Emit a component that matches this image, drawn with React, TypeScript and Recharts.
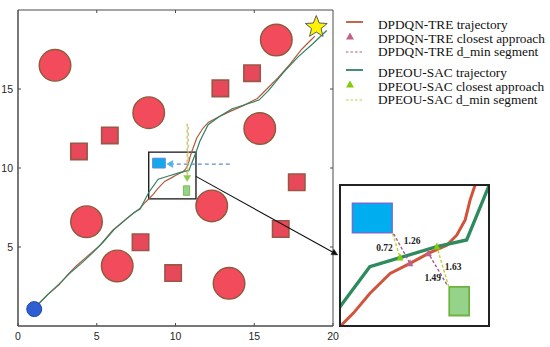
import React from 'react';
import { ComposedChart, Line, XAxis, YAxis, ReferenceDot, ReferenceArea, ReferenceLine } from 'recharts';

// ---------------- data ----------------
const xTicks = [0, 5, 10, 15, 20];
const yTicks = [5, 10, 15];
const mainDomain: [number, number] = [0, 20];

const circleObstacles = [
  { x: 2.35, y: 16.5 },
  { x: 8.3, y: 13.5 },
  { x: 16.4, y: 18.1 },
  { x: 15.35, y: 12.5 },
  { x: 12.3, y: 7.6 },
  { x: 4.35, y: 6.6 },
  { x: 6.3, y: 3.8 },
  { x: 13.4, y: 2.7 },
];

const squareObstacles = [
  { x: 3.87, y: 11.05 },
  { x: 5.83, y: 12.06 },
  { x: 12.85, y: 15.04 },
  { x: 14.86, y: 16.0 },
  { x: 17.7, y: 9.1 },
  { x: 16.68, y: 6.14 },
  { x: 7.78, y: 5.3 },
  { x: 9.85, y: 3.35 },
];

const startPoint = { x: 1.03, y: 1.07 };
const goalPoint = { x: 18.94, y: 18.92 };

const dpdqnTrajectory = [
  { x: 1.2, y: 1.3 },
  { x: 1.9, y: 2.0 },
  { x: 2.6, y: 2.6 },
  { x: 3.2, y: 3.3 },
  { x: 3.7, y: 3.8 },
  { x: 4.5, y: 4.5 },
  { x: 5.2, y: 5.1 },
  { x: 6.0, y: 6.05 },
  { x: 6.6, y: 6.55 },
  { x: 7.2, y: 7.05 },
  { x: 7.7, y: 7.4 },
  { x: 8.0, y: 7.75 },
  { x: 8.33, y: 8.07 },
  { x: 8.57, y: 8.32 },
  { x: 8.9, y: 8.73 },
  { x: 9.31, y: 9.15 },
  { x: 9.71, y: 9.36 },
  { x: 10.08, y: 9.57 },
  { x: 10.45, y: 9.74 },
  { x: 10.65, y: 9.95 },
  { x: 10.82, y: 10.27 },
  { x: 10.92, y: 10.69 },
  { x: 11.02, y: 11.0 },
  { x: 11.35, y: 11.9 },
  { x: 11.75, y: 12.53 },
  { x: 12.1, y: 12.9 },
  { x: 12.6, y: 13.16 },
  { x: 13.4, y: 13.55 },
  { x: 14.3, y: 13.95 },
  { x: 15.2, y: 14.4 },
  { x: 15.8, y: 15.0 },
  { x: 16.5, y: 15.7 },
  { x: 17.3, y: 16.6 },
  { x: 18.0, y: 17.5 },
  { x: 18.6, y: 18.1 },
  { x: 18.85, y: 18.35 },
];

const dpeouTrajectory = [
  { x: 1.2, y: 1.3 },
  { x: 1.9, y: 2.0 },
  { x: 2.6, y: 2.65 },
  { x: 3.3, y: 3.35 },
  { x: 4.0, y: 3.95 },
  { x: 4.7, y: 4.6 },
  { x: 5.4, y: 5.3 },
  { x: 6.1, y: 6.1 },
  { x: 6.8, y: 6.7 },
  { x: 7.4, y: 7.2 },
  { x: 7.75, y: 7.4 },
  { x: 8.3, y: 8.45 },
  { x: 8.9, y: 9.29 },
  { x: 9.51, y: 9.48 },
  { x: 10.25, y: 9.71 },
  { x: 10.85, y: 9.85 },
  { x: 11.29, y: 10.96 },
  { x: 11.54, y: 11.68 },
  { x: 12.07, y: 12.74 },
  { x: 12.81, y: 13.27 },
  { x: 13.6, y: 13.75 },
  { x: 14.4, y: 14.0 },
  { x: 15.3, y: 14.3 },
  { x: 15.9, y: 14.9 },
  { x: 16.9, y: 16.1 },
  { x: 17.8, y: 17.05 },
  { x: 18.7, y: 17.85 },
  { x: 19.6, y: 18.7 },
];

const blueObstacle = { x1: 8.55, x2: 9.35, y1: 10.0, y2: 10.62 };
const greenObstacle = { x1: 10.5, x2: 10.9, y1: 8.27, y2: 8.87 };

const blueArrow = [{ x: 13.45, y: 10.25 }, { x: 9.45, y: 10.25 }];
const greenArrow = [{ x: 10.74, y: 12.8 }, { x: 10.74, y: 9.15 }];

const zoomWindow = { x1: 8.3, x2: 11.3, y1: 8.05, y2: 11.0 };
const zoomConnector = [{ x: 11.3, y: 9.47 }, { x: 20.3, y: 4.5 }];

const dminSegments = [
  { series: 'DPEOU-SAC', label: '0.72', obstacle: { x: 9.36, y: 9.98 }, closest: { x: 9.51, y: 9.48 } },
  { series: 'DPDQN-TRE', label: '1.26', obstacle: { x: 9.38, y: 9.98 }, closest: { x: 9.71, y: 9.36 } },
  { series: 'DPEOU-SAC', label: '1.63', obstacle: { x: 10.49, y: 8.87 }, closest: { x: 10.25, y: 9.71 } },
  { series: 'DPDQN-TRE', label: '1.49', obstacle: { x: 10.45, y: 8.92 }, closest: { x: 10.08, y: 9.57 } },
];

const legendItems = [
  { label: 'DPDQN-TRE trajectory', kind: 'line', series: 'DPDQN-TRE' },
  { label: 'DPDQN-TRE closest approach', kind: 'marker', series: 'DPDQN-TRE' },
  { label: 'DPDQN-TRE d_min segment', kind: 'dash', series: 'DPDQN-TRE' },
  { label: 'DPEOU-SAC trajectory', kind: 'line', series: 'DPEOU-SAC' },
  { label: 'DPEOU-SAC closest approach', kind: 'marker', series: 'DPEOU-SAC' },
  { label: 'DPEOU-SAC d_min segment', kind: 'dash', series: 'DPEOU-SAC' },
];

// ---------------- styles ----------------
const COLORS: Record<string, { line: string; inset: string; marker: string; dash: string }> = {
  'DPDQN-TRE': { line: '#B5583B', inset: '#D0543B', marker: '#C2608A', dash: '#A65A86' },
  'DPEOU-SAC': { line: '#2F8263', inset: '#2E8B5E', marker: '#84CC0A', dash: '#B9D43A' },
};
const AXIS_COLOR = '#4a4a4a';
const TICK_FONT = '"Liberation Sans", Arial, sans-serif';
const SERIF = '"Liberation Serif", "Times New Roman", serif';
const SQUARE_HALF = 0.52;
const TICK_LEN = 0.19;
const LABEL_OFFSETS: Record<string, { dx: number; dy: number; anchor: string }> = {
  '0.72': { dx: -3.5, dy: 2, anchor: 'end' },
  '1.26': { dx: 2, dy: -7.5, anchor: 'start' },
  '1.63': { dx: 2, dy: 0, anchor: 'start' },
  '1.49': { dx: 3.5, dy: 8.4, anchor: 'end' },
};

// ---------------- ticks ----------------
const BottomTick = (p: any) => {
  const { x, y, payload } = p;
  const ay = y - 6;
  return (
    <g>
      <line x1={x} y1={ay} x2={x} y2={ay - 3} stroke={AXIS_COLOR} strokeWidth={1} />
      <text x={x} y={y} dy="0.8em" textAnchor="middle" fontSize={10.5} fill="#262626" fontFamily={TICK_FONT}>
        {payload.value}
      </text>
    </g>
  );
};
const LeftTick = (p: any) => {
  const { x, y, payload } = p;
  const ax = x + 5;
  return (
    <g>
      <line x1={ax} y1={y} x2={ax + 3} y2={y} stroke={AXIS_COLOR} strokeWidth={1} />
      <text x={x} y={y} dy="0.36em" textAnchor="end" fontSize={10.5} fill="#262626" fontFamily={TICK_FONT}>
        {payload.value}
      </text>
    </g>
  );
};

// ---------------- shapes ----------------
const arrowShape = (o: { stroke: string; width: number; dash?: string; head: string; len: number; half: number; overlay?: string }) =>
  (p: any) => {
    const { x1, y1, x2, y2 } = p;
    const a = Math.atan2(y2 - y1, x2 - x1);
    const bx = x2 - o.len * Math.cos(a);
    const by = y2 - o.len * Math.sin(a);
    const nx = -Math.sin(a) * o.half;
    const ny = Math.cos(a) * o.half;
    return (
      <g>
        <line x1={x1} y1={y1} x2={bx} y2={by} stroke={o.stroke} strokeWidth={o.width} strokeDasharray={o.dash} />
        {o.overlay ? (
          <line x1={x1 + 1} y1={y1} x2={bx + 1} y2={by} stroke={o.overlay} strokeWidth={o.width} strokeDasharray={o.dash} strokeDashoffset={3} />
        ) : null}
        <polygon points={`${x2},${y2} ${bx + nx},${by + ny} ${bx - nx},${by - ny}`} fill={o.head} stroke={o.head} strokeWidth={0.5} />
      </g>
    );
  };

const starShape = (p: any) => {
  const { cx, cy } = p;
  const pts: string[] = [];
  for (let i = 0; i < 10; i++) {
    const r = i % 2 === 0 ? 11.5 : 5;
    const a = -Math.PI / 2 + (i * Math.PI) / 5;
    pts.push(`${cx + r * Math.cos(a)},${cy + r * Math.sin(a)}`);
  }
  return <polygon points={pts.join(' ')} fill="#FFF200" stroke="#5a5a5a" strokeWidth={1} />;
};

const triangleShape = (size: number, color: string) => (p: any) => {
  const { cx, cy } = p;
  const h = size * 0.9;
  return (
    <polygon
      points={`${cx},${cy - h / 2 - 1} ${cx - size / 2},${cy + h / 2} ${cx + size / 2},${cy + h / 2}`}
      fill={color}
      stroke={color}
      strokeWidth={0.5}
    />
  );
};

const labelShape = (text: string) => (p: any) => {
  const off = LABEL_OFFSETS[text];
  return (
    <text
      x={p.cx + off.dx}
      y={p.cy + off.dy}
      dy="0.35em"
      textAnchor={off.anchor as any}
      fontSize={9.5}
      fontWeight="bold"
      fontFamily={SERIF}
      fill="#222"
    >
      {text}
    </text>
  );
};

// ---------------- legend ----------------
const LegendBlock = () => {
  const rowsY = [25, 38.5, 52, 73, 86.5, 100];
  return (
    <svg width={212} height={110} style={{ position: 'absolute', left: 338, top: 0 }}>
      {legendItems.map((it, i) => {
        const y = rowsY[i];
        const c = COLORS[it.series];
        let sym: React.ReactNode = null;
        if (it.kind === 'line') sym = <line x1={8} y1={y - 3} x2={25} y2={y - 3} stroke={c.line} strokeWidth={1.8} />;
        else if (it.kind === 'marker')
          sym = <polygon points={`${12},${y - 6} ${8},${y + 1} ${16},${y + 1}`} fill={c.marker} />;
        else sym = <line x1={8} y1={y} x2={25} y2={y} stroke={c.dash} strokeWidth={1} strokeDasharray="2.5 2" />;
        return (
          <g key={it.label}>
            {sym}
            <text x={40} y={y} dy="0.33em" fontSize={13.3} fontFamily={SERIF} fill="#111">
              {it.label}
            </text>
          </g>
        );
      })}
    </svg>
  );
};

// ---------------- charts ----------------
const MainChart = () => (
  <ComposedChart width={550} height={347} margin={{ top: 10, right: 217, bottom: 0, left: 0 }}>
    <XAxis
      type="number"
      dataKey="x"
      domain={mainDomain}
      ticks={xTicks}
      allowDataOverflow
      height={21}
      tickSize={0}
      tickMargin={6}
      tick={BottomTick}
      axisLine={{ stroke: AXIS_COLOR, strokeWidth: 1 }}
      tickLine={false}
      interval={0}
    />
    <YAxis
      type="number"
      dataKey="y"
      domain={mainDomain}
      ticks={yTicks}
      allowDataOverflow
      width={18}
      tickSize={0}
      tickMargin={5}
      tick={LeftTick}
      axisLine={{ stroke: AXIS_COLOR, strokeWidth: 1 }}
      tickLine={false}
      interval={0}
    />

    {circleObstacles.map((c, i) => (
      <ReferenceDot key={'c' + i} x={c.x} y={c.y} r={15.8} fill="#F24B5B" stroke="#8C5A3C" strokeWidth={1.4} />
    ))}
    {squareObstacles.map((s, i) => (
      <ReferenceArea
        key={'s' + i}
        x1={s.x - SQUARE_HALF}
        x2={s.x + SQUARE_HALF}
        y1={s.y - SQUARE_HALF}
        y2={s.y + SQUARE_HALF}
        fill="#E8495A"
        fillOpacity={1}
        stroke="#9A5646"
        strokeWidth={1.6}
      />
    ))}

    <ReferenceArea {...blueObstacle} fill="#12A9EC" fillOpacity={1} stroke="#5A86D8" strokeWidth={1} />
    <ReferenceArea {...greenObstacle} fill="#96D38A" fillOpacity={1} stroke="#7DBB55" strokeWidth={1} />

    <Line data={dpdqnTrajectory} dataKey="y" type="linear" dot={false} stroke={COLORS['DPDQN-TRE'].line} strokeWidth={1.2} isAnimationActive={false} />
    <Line data={dpeouTrajectory} dataKey="y" type="linear" dot={false} stroke={COLORS['DPEOU-SAC'].line} strokeWidth={1.2} isAnimationActive={false} />

    <ReferenceLine
      segment={blueArrow}
      ifOverflow="visible"
      shape={arrowShape({ stroke: '#5F8FCF', width: 1.3, dash: '4 3', head: '#4DB2EA', len: 6, half: 3.5 })}
    />
    <ReferenceLine
      segment={greenArrow}
      ifOverflow="visible"
      shape={arrowShape({ stroke: '#E6A857', width: 1.2, dash: '3 3', head: '#8CC84B', len: 6, half: 3.5, overlay: '#9CCB4A' })}
    />

    <ReferenceDot x={startPoint.x} y={startPoint.y} r={7.5} fill="#2D5FD3" stroke="#2448A8" strokeWidth={1} />
    <ReferenceDot x={goalPoint.x} y={goalPoint.y} r={11} shape={starShape} ifOverflow="visible" />

    {/* box frame with inward ticks on top and right */}
    <ReferenceArea
      x1={mainDomain[0]}
      x2={mainDomain[1]}
      y1={mainDomain[0]}
      y2={mainDomain[1]}
      fill="none"
      fillOpacity={0}
      stroke={AXIS_COLOR}
      strokeWidth={1}
      ifOverflow="visible"
    />
    {xTicks.slice(1, -1).map((v) => (
      <ReferenceLine
        key={'tt' + v}
        segment={[{ x: v, y: mainDomain[1] }, { x: v, y: mainDomain[1] - TICK_LEN }]}
        stroke={AXIS_COLOR}
        strokeWidth={1}
        ifOverflow="visible"
      />
    ))}
    {yTicks.map((v) => (
      <ReferenceLine
        key={'rt' + v}
        segment={[{ x: mainDomain[1], y: v }, { x: mainDomain[1] - TICK_LEN, y: v }]}
        stroke={AXIS_COLOR}
        strokeWidth={1}
        ifOverflow="visible"
      />
    ))}

    <ReferenceArea {...zoomWindow} fill="none" fillOpacity={0} stroke="#111" strokeWidth={1.3} ifOverflow="visible" />
    <ReferenceLine
      segment={zoomConnector}
      ifOverflow="visible"
      shape={arrowShape({ stroke: '#111', width: 1.1, head: '#111', len: 6, half: 3 })}
    />
  </ComposedChart>
);

const InsetChart = () => (
  <ComposedChart width={149} height={141} margin={{ top: 0, right: 0, bottom: 0, left: 0 }}>
    <XAxis type="number" dataKey="x" domain={[zoomWindow.x1, zoomWindow.x2]} allowDataOverflow hide />
    <YAxis type="number" dataKey="y" domain={[zoomWindow.y1, zoomWindow.y2]} allowDataOverflow hide />

    <ReferenceArea {...blueObstacle} fill="#00AEEF" fillOpacity={1} stroke="#6E6ED8" strokeWidth={1.5} ifOverflow="hidden" />
    <ReferenceArea {...greenObstacle} fill="#96D38A" fillOpacity={1} stroke="#6DB33F" strokeWidth={1.8} ifOverflow="hidden" />

    <Line data={dpdqnTrajectory} dataKey="y" type="linear" dot={false} stroke={COLORS['DPDQN-TRE'].inset} strokeWidth={3} isAnimationActive={false} />
    <Line data={dpeouTrajectory} dataKey="y" type="linear" dot={false} stroke={COLORS['DPEOU-SAC'].inset} strokeWidth={3.3} isAnimationActive={false} />

    {dminSegments.map((s) => (
      <ReferenceLine
        key={'seg' + s.label}
        segment={[s.obstacle, s.closest]}
        stroke={COLORS[s.series].dash}
        strokeWidth={1.4}
        strokeDasharray="3 2"
      />
    ))}
    {dminSegments.map((s) => (
      <ReferenceDot key={'m' + s.label} x={s.closest.x} y={s.closest.y} r={3} shape={triangleShape(6, COLORS[s.series].marker)} />
    ))}
    {dminSegments.map((s) => (
      <ReferenceDot
        key={'l' + s.label}
        x={(s.obstacle.x + s.closest.x) / 2}
        y={(s.obstacle.y + s.closest.y) / 2}
        r={1}
        shape={labelShape(s.label)}
      />
    ))}
  </ComposedChart>
);

export default function App() {
  return (
    <div style={{ position: 'absolute', left: 0, top: 0, width: 550, height: 347, background: '#fff', overflow: 'hidden' }}>
      <MainChart />
      <LegendBlock />
      <div style={{ position: 'absolute', left: 340, top: 185 }}>
        <InsetChart />
      </div>
      <div
        style={{
          position: 'absolute',
          left: 339,
          top: 184,
          width: 151,
          height: 143,
          border: '2px solid #222',
          boxSizing: 'border-box',
          pointerEvents: 'none',
        }}
      />
    </div>
  );
}
